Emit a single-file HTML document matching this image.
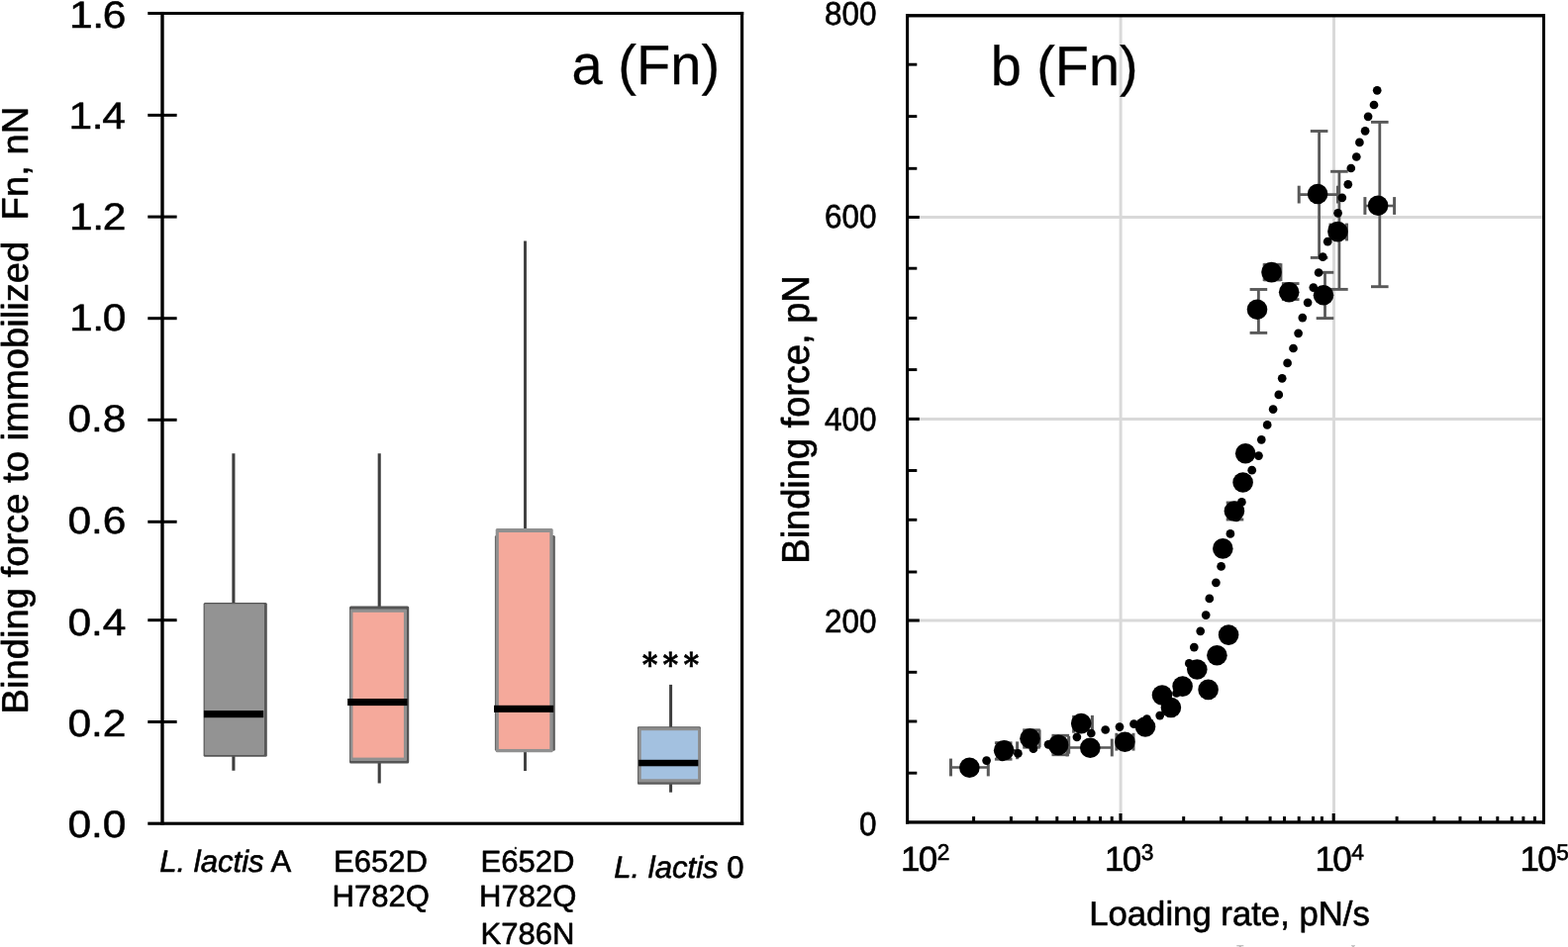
<!DOCTYPE html>
<html lang="en">
<head>
<meta charset="utf-8">
<title>Binding force figure</title>
<style>
html,body{margin:0;padding:0;background:#fff;}
body{width:1584px;height:957px;overflow:hidden;}
svg{display:block;}
text{white-space:pre;text-rendering:geometricPrecision;}
</style>
</head>
<body>
<svg width="1584" height="957" viewBox="0 0 1584 957" role="img" aria-label="Box plot of binding force to immobilized Fn and scatter plot of binding force versus loading rate">
<rect x="0" y="0" width="1584" height="957" fill="#fff"/>
<g id="panel-a">
<rect x="149.30" y="11.95" width="601.90" height="3.00" fill="#000"/>
<rect x="748.00" y="11.95" width="3.20" height="821.85" fill="#000"/>
<rect x="162.30" y="11.95" width="3.40" height="821.85" fill="#000"/>
<rect x="149.30" y="830.65" width="601.90" height="3.15" fill="#000"/>
<rect x="149.30" y="114.90" width="29.35" height="3.00" fill="#000"/>
<rect x="149.30" y="217.60" width="29.35" height="3.00" fill="#000"/>
<rect x="149.30" y="320.20" width="29.35" height="3.00" fill="#000"/>
<rect x="149.30" y="422.80" width="29.35" height="3.00" fill="#000"/>
<rect x="149.30" y="525.80" width="29.35" height="3.00" fill="#000"/>
<rect x="149.30" y="625.20" width="29.35" height="3.00" fill="#000"/>
<rect x="149.30" y="728.00" width="29.35" height="3.00" fill="#000"/>
<text transform="translate(127.50,27.60) scale(1.1100,1.0000)" font-family="'Liberation Sans', Arial, sans-serif" font-size="38.3" text-anchor="start" fill="#000" stroke="#000" stroke-width="0.5" stroke-linejoin="round"  ><tspan x="-51.71 -30.77 -21.30">1.6</tspan></text>
<text transform="translate(127.00,129.80) scale(1.1100,1.0000)" font-family="'Liberation Sans', Arial, sans-serif" font-size="38.3" text-anchor="start" fill="#000" stroke="#000" stroke-width="0.5" stroke-linejoin="round"  ><tspan x="-51.71 -30.77 -21.30">1.4</tspan></text>
<text transform="translate(127.50,231.80) scale(1.1100,1.0000)" font-family="'Liberation Sans', Arial, sans-serif" font-size="38.3" text-anchor="start" fill="#000" stroke="#000" stroke-width="0.5" stroke-linejoin="round"  ><tspan x="-51.71 -30.77 -21.30">1.2</tspan></text>
<text transform="translate(127.50,334.10) scale(1.1100,1.0000)" font-family="'Liberation Sans', Arial, sans-serif" font-size="38.3" text-anchor="start" fill="#000" stroke="#000" stroke-width="0.5" stroke-linejoin="round"  ><tspan x="-51.71 -30.77 -21.30">1.0</tspan></text>
<text transform="translate(127.50,436.40) scale(1.1100,1.0000)" font-family="'Liberation Sans', Arial, sans-serif" font-size="38.3" text-anchor="start" fill="#000" stroke="#000" stroke-width="0.5" stroke-linejoin="round"  ><tspan x="-53.24 -31.94 -21.30">0.8</tspan></text>
<text transform="translate(127.50,539.00) scale(1.1100,1.0000)" font-family="'Liberation Sans', Arial, sans-serif" font-size="38.3" text-anchor="start" fill="#000" stroke="#000" stroke-width="0.5" stroke-linejoin="round"  ><tspan x="-53.24 -31.94 -21.30">0.6</tspan></text>
<text transform="translate(127.50,641.60) scale(1.1100,1.0000)" font-family="'Liberation Sans', Arial, sans-serif" font-size="38.3" text-anchor="start" fill="#000" stroke="#000" stroke-width="0.5" stroke-linejoin="round"  ><tspan x="-53.24 -31.94 -21.30">0.4</tspan></text>
<text transform="translate(127.50,744.10) scale(1.1100,1.0000)" font-family="'Liberation Sans', Arial, sans-serif" font-size="38.3" text-anchor="start" fill="#000" stroke="#000" stroke-width="0.5" stroke-linejoin="round"  ><tspan x="-53.24 -31.94 -21.30">0.2</tspan></text>
<text transform="translate(127.50,846.40) scale(1.1100,1.0000)" font-family="'Liberation Sans', Arial, sans-serif" font-size="38.3" text-anchor="start" fill="#000" stroke="#000" stroke-width="0.5" stroke-linejoin="round"  ><tspan x="-53.24 -31.94 -21.30">0.0</tspan></text>
<text transform="translate(28.40,721.60) rotate(-90) scale(0.9980,0.9780)" font-family="'Liberation Sans', Arial, sans-serif" font-size="38.3" text-anchor="start" fill="#000" stroke="#000" stroke-width="0.6" stroke-linejoin="round"  xml:space="preserve">Binding force to immobilized&#160;&#160;Fn, nN</text>
<text transform="translate(577.60,84.70) scale(0.9920,1.0000)" font-family="'Liberation Sans', Arial, sans-serif" font-size="56.5" text-anchor="start" fill="#000" stroke="#000" stroke-width="0.25" stroke-linejoin="round"  >a (Fn)</text>
<line x1="235.9" y1="458.3" x2="235.9" y2="778.8" stroke="#3e3e3e" stroke-width="3.1" stroke-linecap="butt"/>
<rect x="205.60" y="609.10" width="64.20" height="155.70" rx="1.5" ry="1.5" fill="#555555"/>
<rect x="206.70" y="610.20" width="60.30" height="152.80" rx="1.0" ry="1.0" fill="#939393"/>
<rect x="205.90" y="718.10" width="60.30" height="7.10" fill="#000"/>
<line x1="383.2" y1="458.3" x2="383.2" y2="791.6" stroke="#3e3e3e" stroke-width="3.1" stroke-linecap="butt"/>
<rect x="353.00" y="612.50" width="60.20" height="158.90" rx="1.5" ry="1.5" fill="#555555"/>
<rect x="353.70" y="615.40" width="57.30" height="153.60" rx="1.0" ry="1.0" fill="#909090"/>
<rect x="356.45" y="618.80" width="51.45" height="146.80" fill="#F5A99B"/>
<rect x="351.10" y="706.00" width="60.40" height="7.10" fill="#000"/>
<line x1="530.5" y1="243.6" x2="530.5" y2="779.1" stroke="#3e3e3e" stroke-width="2.9" stroke-linecap="butt"/>
<rect x="499.90" y="541.00" width="60.90" height="217.80" rx="1.5" ry="1.5" fill="#5a5a5a"/>
<rect x="500.70" y="534.10" width="58.00" height="226.20" rx="1.5" ry="1.5" fill="#909090"/>
<rect x="503.85" y="538.00" width="51.45" height="218.95" fill="#F5A99B"/>
<rect x="499.00" y="712.80" width="60.20" height="7.10" fill="#000"/>
<line x1="677.6" y1="691.9" x2="677.6" y2="800.7" stroke="#3e3e3e" stroke-width="3.0" stroke-linecap="butt"/>
<rect x="644.00" y="734.20" width="63.75" height="58.50" rx="1.0" ry="1.0" fill="#5a5a5a"/>
<rect x="644.80" y="735.30" width="62.20" height="55.30" rx="0.8" ry="0.8" fill="#8e8e8e"/>
<rect x="647.70" y="738.20" width="57.35" height="49.10" fill="#A3C1E0"/>
<rect x="645.20" y="767.80" width="60.20" height="6.50" fill="#000"/>
<text transform="translate(656.70,683.40) scale(0.9200,1.0000)" font-family="'DejaVu Serif', 'Liberation Serif', serif" font-size="32.6" text-anchor="start" fill="#000" stroke="#000" stroke-width="0.6" stroke-linejoin="round" font-weight="bold" ><tspan x="-8.52 14.03 36.64">***</tspan></text>
<text transform="translate(161.20,881.30) scale(1.0030,1.0000)" font-family="'Liberation Sans', Arial, sans-serif" font-size="31.0" text-anchor="start" fill="#000" stroke="#000" stroke-width="0.6" stroke-linejoin="round"  ><tspan font-style="italic">L. lactis</tspan> A</text>
<text transform="translate(384.50,881.00) scale(1.0120,1.0000)" font-family="'Liberation Sans', Arial, sans-serif" font-size="30.7" text-anchor="middle" fill="#000" stroke="#000" stroke-width="0.6" stroke-linejoin="round"  >E652D</text>
<text transform="translate(384.70,915.80) scale(1.0120,1.0000)" font-family="'Liberation Sans', Arial, sans-serif" font-size="30.7" text-anchor="middle" fill="#000" stroke="#000" stroke-width="0.6" stroke-linejoin="round"  >H782Q</text>
<text transform="translate(533.00,881.00) scale(1.0120,1.0000)" font-family="'Liberation Sans', Arial, sans-serif" font-size="30.7" text-anchor="middle" fill="#000" stroke="#000" stroke-width="0.6" stroke-linejoin="round"  >E652D</text>
<text transform="translate(533.20,915.80) scale(1.0120,1.0000)" font-family="'Liberation Sans', Arial, sans-serif" font-size="30.7" text-anchor="middle" fill="#000" stroke="#000" stroke-width="0.6" stroke-linejoin="round"  >H782Q</text>
<text transform="translate(533.00,954.00) scale(1.0120,1.0000)" font-family="'Liberation Sans', Arial, sans-serif" font-size="30.7" text-anchor="middle" fill="#000" stroke="#000" stroke-width="0.6" stroke-linejoin="round"  >K786N</text>
<text transform="translate(620.20,886.60) scale(1.0030,1.0000)" font-family="'Liberation Sans', Arial, sans-serif" font-size="31.0" text-anchor="start" fill="#000" stroke="#000" stroke-width="0.6" stroke-linejoin="round"  ><tspan font-style="italic">L. lactis</tspan> 0</text>
</g>
<g id="panel-b">
<line x1="917.0" y1="219.6" x2="1559.8" y2="219.6" stroke="#D9D9D9" stroke-width="3.0" stroke-linecap="butt"/>
<line x1="917.0" y1="423.5" x2="1559.8" y2="423.5" stroke="#D9D9D9" stroke-width="3.0" stroke-linecap="butt"/>
<line x1="917.0" y1="627.1" x2="1559.8" y2="627.1" stroke="#D9D9D9" stroke-width="3.0" stroke-linecap="butt"/>
<line x1="1132.1" y1="15.9" x2="1132.1" y2="830.8" stroke="#D9D9D9" stroke-width="3.0" stroke-linecap="butt"/>
<line x1="1347.5" y1="15.9" x2="1347.5" y2="830.8" stroke="#D9D9D9" stroke-width="3.0" stroke-linecap="butt"/>
<line x1="1332.6" y1="132.5" x2="1332.6" y2="260.4" stroke="#595959" stroke-width="2.8" stroke-linecap="butt"/>
<line x1="1323.8" y1="132.5" x2="1341.3999999999999" y2="132.5" stroke="#595959" stroke-width="2.9" stroke-linecap="butt"/>
<line x1="1323.8" y1="260.4" x2="1341.3999999999999" y2="260.4" stroke="#595959" stroke-width="2.9" stroke-linecap="butt"/>
<line x1="1312.2" y1="196.6" x2="1351.4" y2="196.6" stroke="#595959" stroke-width="2.6" stroke-linecap="butt"/>
<line x1="1312.2" y1="187.7" x2="1312.2" y2="205.5" stroke="#595959" stroke-width="3.0" stroke-linecap="butt"/>
<line x1="1351.4" y1="187.7" x2="1351.4" y2="205.5" stroke="#595959" stroke-width="3.0" stroke-linecap="butt"/>
<line x1="1393.8" y1="123.4" x2="1393.8" y2="289.7" stroke="#595959" stroke-width="2.8" stroke-linecap="butt"/>
<line x1="1385.0" y1="123.4" x2="1402.6" y2="123.4" stroke="#595959" stroke-width="2.9" stroke-linecap="butt"/>
<line x1="1385.0" y1="289.7" x2="1402.6" y2="289.7" stroke="#595959" stroke-width="2.9" stroke-linecap="butt"/>
<line x1="1378.9" y1="208.0" x2="1408.6" y2="208.0" stroke="#595959" stroke-width="2.6" stroke-linecap="butt"/>
<line x1="1378.9" y1="199.1" x2="1378.9" y2="216.9" stroke="#595959" stroke-width="3.0" stroke-linecap="butt"/>
<line x1="1408.6" y1="199.1" x2="1408.6" y2="216.9" stroke="#595959" stroke-width="3.0" stroke-linecap="butt"/>
<line x1="1352.9" y1="173.3" x2="1352.9" y2="292.4" stroke="#595959" stroke-width="2.8" stroke-linecap="butt"/>
<line x1="1344.1000000000001" y1="173.3" x2="1361.7" y2="173.3" stroke="#595959" stroke-width="2.9" stroke-linecap="butt"/>
<line x1="1344.1000000000001" y1="292.4" x2="1361.7" y2="292.4" stroke="#595959" stroke-width="2.9" stroke-linecap="butt"/>
<line x1="1344.0" y1="234.5" x2="1360.5" y2="234.5" stroke="#595959" stroke-width="2.6" stroke-linecap="butt"/>
<line x1="1344.0" y1="225.6" x2="1344.0" y2="243.4" stroke="#595959" stroke-width="3.0" stroke-linecap="butt"/>
<line x1="1360.5" y1="225.6" x2="1360.5" y2="243.4" stroke="#595959" stroke-width="3.0" stroke-linecap="butt"/>
<line x1="1271.4" y1="292.5" x2="1271.4" y2="336.4" stroke="#595959" stroke-width="2.8" stroke-linecap="butt"/>
<line x1="1262.6000000000001" y1="292.5" x2="1280.2" y2="292.5" stroke="#595959" stroke-width="2.9" stroke-linecap="butt"/>
<line x1="1262.6000000000001" y1="336.4" x2="1280.2" y2="336.4" stroke="#595959" stroke-width="2.9" stroke-linecap="butt"/>
<line x1="1338.5" y1="275.3" x2="1338.5" y2="321.6" stroke="#595959" stroke-width="2.8" stroke-linecap="butt"/>
<line x1="1329.7" y1="275.3" x2="1347.3" y2="275.3" stroke="#595959" stroke-width="2.9" stroke-linecap="butt"/>
<line x1="1329.7" y1="321.6" x2="1347.3" y2="321.6" stroke="#595959" stroke-width="2.9" stroke-linecap="butt"/>
<line x1="960.5" y1="775.5" x2="998.3" y2="775.5" stroke="#595959" stroke-width="2.6" stroke-linecap="butt"/>
<line x1="960.5" y1="766.6" x2="960.5" y2="784.4" stroke="#595959" stroke-width="3.0" stroke-linecap="butt"/>
<line x1="998.3" y1="766.6" x2="998.3" y2="784.4" stroke="#595959" stroke-width="3.0" stroke-linecap="butt"/>
<line x1="1078.0" y1="755.5" x2="1123.3" y2="755.5" stroke="#595959" stroke-width="2.6" stroke-linecap="butt"/>
<line x1="1078.0" y1="746.6" x2="1078.0" y2="764.4" stroke="#595959" stroke-width="3.0" stroke-linecap="butt"/>
<line x1="1123.3" y1="746.6" x2="1123.3" y2="764.4" stroke="#595959" stroke-width="3.0" stroke-linecap="butt"/>
<line x1="1013.7" y1="750.8" x2="1013.7" y2="767.2" stroke="#595959" stroke-width="2.8" stroke-linecap="butt"/>
<line x1="1004.9000000000001" y1="750.8" x2="1022.5" y2="750.8" stroke="#595959" stroke-width="2.9" stroke-linecap="butt"/>
<line x1="1004.9000000000001" y1="767.2" x2="1022.5" y2="767.2" stroke="#595959" stroke-width="2.9" stroke-linecap="butt"/>
<line x1="1007.5" y1="758.3" x2="1027.6" y2="758.3" stroke="#595959" stroke-width="2.6" stroke-linecap="butt"/>
<line x1="1007.5" y1="749.4" x2="1007.5" y2="767.1999999999999" stroke="#595959" stroke-width="3.0" stroke-linecap="butt"/>
<line x1="1027.6" y1="749.4" x2="1027.6" y2="767.1999999999999" stroke="#595959" stroke-width="3.0" stroke-linecap="butt"/>
<line x1="1042.0" y1="737.8" x2="1042.0" y2="755.2" stroke="#595959" stroke-width="2.8" stroke-linecap="butt"/>
<line x1="1033.2" y1="737.8" x2="1050.8" y2="737.8" stroke="#595959" stroke-width="2.9" stroke-linecap="butt"/>
<line x1="1033.2" y1="755.2" x2="1050.8" y2="755.2" stroke="#595959" stroke-width="2.9" stroke-linecap="butt"/>
<line x1="1036.0" y1="746.4" x2="1050.1" y2="746.4" stroke="#595959" stroke-width="2.6" stroke-linecap="butt"/>
<line x1="1036.0" y1="737.5" x2="1036.0" y2="755.3" stroke="#595959" stroke-width="3.0" stroke-linecap="butt"/>
<line x1="1050.1" y1="737.5" x2="1050.1" y2="755.3" stroke="#595959" stroke-width="3.0" stroke-linecap="butt"/>
<line x1="1071.3" y1="743.3" x2="1071.3" y2="762.7" stroke="#595959" stroke-width="2.8" stroke-linecap="butt"/>
<line x1="1062.5" y1="743.3" x2="1080.1" y2="743.3" stroke="#595959" stroke-width="2.9" stroke-linecap="butt"/>
<line x1="1062.5" y1="762.7" x2="1080.1" y2="762.7" stroke="#595959" stroke-width="2.9" stroke-linecap="butt"/>
<line x1="1064.0" y1="752.8" x2="1079.7" y2="752.8" stroke="#595959" stroke-width="2.6" stroke-linecap="butt"/>
<line x1="1064.0" y1="743.9" x2="1064.0" y2="761.6999999999999" stroke="#595959" stroke-width="3.0" stroke-linecap="butt"/>
<line x1="1079.7" y1="743.9" x2="1079.7" y2="761.6999999999999" stroke="#595959" stroke-width="3.0" stroke-linecap="butt"/>
<line x1="1084.6" y1="731.8" x2="1103.4" y2="731.8" stroke="#595959" stroke-width="2.6" stroke-linecap="butt"/>
<line x1="1084.6" y1="722.9" x2="1084.6" y2="740.6999999999999" stroke="#595959" stroke-width="3.0" stroke-linecap="butt"/>
<line x1="1103.4" y1="722.9" x2="1103.4" y2="740.6999999999999" stroke="#595959" stroke-width="3.0" stroke-linecap="butt"/>
<line x1="1127.9" y1="749.7" x2="1145.0" y2="749.7" stroke="#595959" stroke-width="2.6" stroke-linecap="butt"/>
<line x1="1127.9" y1="740.8000000000001" x2="1127.9" y2="758.6" stroke="#595959" stroke-width="3.0" stroke-linecap="butt"/>
<line x1="1145.0" y1="740.8000000000001" x2="1145.0" y2="758.6" stroke="#595959" stroke-width="3.0" stroke-linecap="butt"/>
<line x1="1285.3" y1="267.3" x2="1285.3" y2="282.9" stroke="#595959" stroke-width="2.8" stroke-linecap="butt"/>
<line x1="1276.5" y1="267.3" x2="1294.1" y2="267.3" stroke="#595959" stroke-width="2.9" stroke-linecap="butt"/>
<line x1="1276.5" y1="282.9" x2="1294.1" y2="282.9" stroke="#595959" stroke-width="2.9" stroke-linecap="butt"/>
<line x1="1277.2" y1="275.1" x2="1293.9" y2="275.1" stroke="#595959" stroke-width="2.6" stroke-linecap="butt"/>
<line x1="1277.2" y1="266.20000000000005" x2="1277.2" y2="284.0" stroke="#595959" stroke-width="3.0" stroke-linecap="butt"/>
<line x1="1293.9" y1="266.20000000000005" x2="1293.9" y2="284.0" stroke="#595959" stroke-width="3.0" stroke-linecap="butt"/>
<line x1="1303.7" y1="286.6" x2="1303.7" y2="302.6" stroke="#595959" stroke-width="2.8" stroke-linecap="butt"/>
<line x1="1294.9" y1="286.6" x2="1312.5" y2="286.6" stroke="#595959" stroke-width="2.9" stroke-linecap="butt"/>
<line x1="1294.9" y1="302.6" x2="1312.5" y2="302.6" stroke="#595959" stroke-width="2.9" stroke-linecap="butt"/>
<line x1="1247.5" y1="508.0" x2="1247.5" y2="525.0" stroke="#595959" stroke-width="2.8" stroke-linecap="butt"/>
<line x1="1238.7" y1="508.0" x2="1256.3" y2="508.0" stroke="#595959" stroke-width="2.9" stroke-linecap="butt"/>
<line x1="1238.7" y1="525.0" x2="1256.3" y2="525.0" stroke="#595959" stroke-width="2.9" stroke-linecap="butt"/>
<circle cx="1391.2" cy="91.3" r="4.35" fill="#000"/>
<circle cx="1388.0" cy="106.0" r="4.35" fill="#000"/>
<circle cx="1382.1" cy="117.8" r="4.35" fill="#000"/>
<circle cx="1379.1" cy="132.3" r="4.35" fill="#000"/>
<circle cx="1373.4" cy="143.9" r="4.35" fill="#000"/>
<circle cx="1370.3" cy="158.5" r="4.35" fill="#000"/>
<circle cx="1364.8" cy="170.0" r="4.35" fill="#000"/>
<circle cx="1361.8" cy="186.3" r="4.35" fill="#000"/>
<circle cx="1355.8" cy="199.8" r="4.35" fill="#000"/>
<circle cx="1351.6" cy="215.3" r="4.35" fill="#000"/>
<circle cx="1346.5" cy="230.0" r="4.35" fill="#000"/>
<circle cx="1341.2" cy="244.2" r="4.35" fill="#000"/>
<circle cx="1336.3" cy="259.7" r="4.35" fill="#000"/>
<circle cx="1332.1" cy="275.5" r="4.35" fill="#000"/>
<circle cx="1326.8" cy="290.6" r="4.35" fill="#000"/>
<circle cx="1321.1" cy="305.8" r="4.35" fill="#000"/>
<circle cx="1315.8" cy="321.1" r="4.35" fill="#000"/>
<circle cx="1311.6" cy="336.8" r="4.35" fill="#000"/>
<circle cx="1306.5" cy="352.0" r="4.35" fill="#000"/>
<circle cx="1300.6" cy="366.9" r="4.35" fill="#000"/>
<circle cx="1295.2" cy="382.3" r="4.35" fill="#000"/>
<circle cx="1291.8" cy="398.9" r="4.35" fill="#000"/>
<circle cx="1286.1" cy="413.6" r="4.35" fill="#000"/>
<circle cx="1280.2" cy="429.4" r="4.35" fill="#000"/>
<circle cx="1274.3" cy="444.3" r="4.35" fill="#000"/>
<circle cx="1271.5" cy="460.6" r="4.35" fill="#000"/>
<circle cx="1264.7" cy="475.2" r="4.35" fill="#000"/>
<circle cx="1260.0" cy="490.5" r="4.35" fill="#000"/>
<circle cx="1254.4" cy="507.4" r="4.35" fill="#000"/>
<circle cx="1249.0" cy="523.0" r="4.35" fill="#000"/>
<circle cx="1242.9" cy="539.4" r="4.35" fill="#000"/>
<circle cx="1238.0" cy="555.5" r="4.35" fill="#000"/>
<circle cx="1233.6" cy="572.4" r="4.35" fill="#000"/>
<circle cx="1228.4" cy="588.8" r="4.35" fill="#000"/>
<circle cx="1221.8" cy="604.9" r="4.35" fill="#000"/>
<circle cx="1218.2" cy="621.6" r="4.35" fill="#000"/>
<circle cx="1212.7" cy="637.8" r="4.35" fill="#000"/>
<circle cx="1206.3" cy="654.1" r="4.35" fill="#000"/>
<circle cx="1201.3" cy="670.4" r="4.35" fill="#000"/>
<circle cx="1195.0" cy="688.0" r="4.35" fill="#000"/>
<circle cx="1188.5" cy="700.5" r="4.35" fill="#000"/>
<circle cx="1180.5" cy="711.5" r="4.35" fill="#000"/>
<circle cx="1171.7" cy="723.1" r="4.35" fill="#000"/>
<circle cx="1158.6" cy="726.5" r="4.35" fill="#000"/>
<circle cx="1145.5" cy="731.7" r="4.35" fill="#000"/>
<circle cx="1131.0" cy="734.6" r="4.35" fill="#000"/>
<circle cx="1116.7" cy="737.5" r="4.35" fill="#000"/>
<circle cx="1102.3" cy="741.0" r="4.35" fill="#000"/>
<circle cx="1087.9" cy="744.8" r="4.35" fill="#000"/>
<circle cx="1073.5" cy="748.5" r="4.35" fill="#000"/>
<circle cx="1059.1" cy="752.3" r="4.35" fill="#000"/>
<circle cx="1043.9" cy="756.7" r="4.35" fill="#000"/>
<circle cx="1028.4" cy="761.4" r="4.35" fill="#000"/>
<circle cx="1012.5" cy="765.0" r="4.35" fill="#000"/>
<circle cx="996.6" cy="768.6" r="4.35" fill="#000"/>
<circle cx="979.4" cy="775.7" r="10.3" fill="#000"/>
<circle cx="1014.2" cy="758.2" r="10.3" fill="#000"/>
<circle cx="1040.5" cy="746.3" r="10.3" fill="#000"/>
<circle cx="1069.1" cy="752.9" r="10.3" fill="#000"/>
<circle cx="1092.2" cy="731.1" r="10.3" fill="#000"/>
<circle cx="1101.3" cy="755.8" r="10.3" fill="#000"/>
<circle cx="1136.4" cy="749.7" r="10.3" fill="#000"/>
<circle cx="1157.0" cy="734.5" r="10.3" fill="#000"/>
<circle cx="1174.0" cy="702.5" r="10.3" fill="#000"/>
<circle cx="1182.9" cy="715.0" r="10.3" fill="#000"/>
<circle cx="1194.6" cy="693.6" r="10.3" fill="#000"/>
<circle cx="1220.6" cy="696.9" r="10.3" fill="#000"/>
<circle cx="1209.3" cy="676.5" r="10.3" fill="#000"/>
<circle cx="1229.4" cy="662.3" r="10.3" fill="#000"/>
<circle cx="1241.1" cy="641.6" r="10.3" fill="#000"/>
<circle cx="1235.3" cy="554.4" r="10.3" fill="#000"/>
<circle cx="1246.9" cy="516.5" r="10.3" fill="#000"/>
<circle cx="1255.6" cy="487.5" r="10.3" fill="#000"/>
<circle cx="1258.2" cy="458.3" r="10.3" fill="#000"/>
<circle cx="1270.0" cy="312.8" r="10.3" fill="#000"/>
<circle cx="1284.5" cy="275.1" r="10.3" fill="#000"/>
<circle cx="1302.2" cy="295.3" r="10.3" fill="#000"/>
<circle cx="1337.0" cy="298.2" r="10.3" fill="#000"/>
<circle cx="1351.4" cy="234.1" r="10.3" fill="#000"/>
<circle cx="1331.1" cy="196.0" r="10.3" fill="#000"/>
<circle cx="1392.1" cy="207.7" r="10.3" fill="#000"/>
<rect x="915.10" y="14.10" width="645.90" height="3.35" fill="#000"/>
<rect x="915.10" y="829.30" width="645.90" height="3.30" fill="#000"/>
<rect x="915.10" y="14.10" width="3.05" height="818.50" fill="#000"/>
<rect x="1558.00" y="14.10" width="3.00" height="818.50" fill="#000"/>
<rect x="916.00" y="63.75" width="10.30" height="2.90" fill="#000"/>
<rect x="916.00" y="116.15" width="10.30" height="2.90" fill="#000"/>
<rect x="916.00" y="168.85" width="10.30" height="2.90" fill="#000"/>
<rect x="916.00" y="269.75" width="10.30" height="2.90" fill="#000"/>
<rect x="916.00" y="319.95" width="10.30" height="2.90" fill="#000"/>
<rect x="916.00" y="372.15" width="10.30" height="2.90" fill="#000"/>
<rect x="916.00" y="474.05" width="10.30" height="2.90" fill="#000"/>
<rect x="916.00" y="523.85" width="10.30" height="2.90" fill="#000"/>
<rect x="916.00" y="576.55" width="10.30" height="2.90" fill="#000"/>
<rect x="916.00" y="677.85" width="10.30" height="2.90" fill="#000"/>
<rect x="916.00" y="727.55" width="10.30" height="2.90" fill="#000"/>
<rect x="916.00" y="779.75" width="10.30" height="2.90" fill="#000"/>
<rect x="916.00" y="218.00" width="12.80" height="3.00" fill="#000"/>
<rect x="916.00" y="421.90" width="12.80" height="3.00" fill="#000"/>
<rect x="916.00" y="625.50" width="12.80" height="3.00" fill="#000"/>
<rect x="982.10" y="825.10" width="3.00" height="5.90" fill="#000"/>
<rect x="1019.90" y="825.10" width="3.00" height="5.90" fill="#000"/>
<rect x="1046.00" y="825.10" width="3.00" height="5.90" fill="#000"/>
<rect x="1066.30" y="825.10" width="3.00" height="5.90" fill="#000"/>
<rect x="1083.90" y="825.10" width="3.00" height="5.90" fill="#000"/>
<rect x="1098.40" y="825.10" width="3.00" height="5.90" fill="#000"/>
<rect x="1110.00" y="825.10" width="3.00" height="5.90" fill="#000"/>
<rect x="1121.70" y="825.10" width="3.00" height="5.90" fill="#000"/>
<rect x="1194.20" y="825.10" width="3.00" height="5.90" fill="#000"/>
<rect x="1232.00" y="825.10" width="3.00" height="5.90" fill="#000"/>
<rect x="1258.20" y="825.10" width="3.00" height="5.90" fill="#000"/>
<rect x="1281.60" y="825.10" width="3.00" height="5.90" fill="#000"/>
<rect x="1296.00" y="825.10" width="3.00" height="5.90" fill="#000"/>
<rect x="1310.70" y="825.10" width="3.00" height="5.90" fill="#000"/>
<rect x="1325.00" y="825.10" width="3.00" height="5.90" fill="#000"/>
<rect x="1333.90" y="825.10" width="3.00" height="5.90" fill="#000"/>
<rect x="1409.60" y="825.10" width="3.00" height="5.90" fill="#000"/>
<rect x="1447.40" y="825.10" width="3.00" height="5.90" fill="#000"/>
<rect x="1473.50" y="825.10" width="3.00" height="5.90" fill="#000"/>
<rect x="1493.90" y="825.10" width="3.00" height="5.90" fill="#000"/>
<rect x="1511.30" y="825.10" width="3.00" height="5.90" fill="#000"/>
<rect x="1525.80" y="825.10" width="3.00" height="5.90" fill="#000"/>
<rect x="1537.40" y="825.10" width="3.00" height="5.90" fill="#000"/>
<rect x="1549.00" y="825.10" width="3.00" height="5.90" fill="#000"/>
<rect x="1130.45" y="822.00" width="3.10" height="9.00" fill="#000"/>
<rect x="1345.65" y="822.00" width="3.10" height="9.00" fill="#000"/>
<text transform="translate(885.60,24.80) scale(0.9530,1.0000)" font-family="'Liberation Sans', Arial, sans-serif" font-size="33.05" text-anchor="end" fill="#000" stroke="#000" stroke-width="0.6" stroke-linejoin="round"  >800</text>
<text transform="translate(885.60,229.65) scale(0.9530,1.0000)" font-family="'Liberation Sans', Arial, sans-serif" font-size="33.05" text-anchor="end" fill="#000" stroke="#000" stroke-width="0.6" stroke-linejoin="round"  >600</text>
<text transform="translate(885.60,434.50) scale(0.9530,1.0000)" font-family="'Liberation Sans', Arial, sans-serif" font-size="33.05" text-anchor="end" fill="#000" stroke="#000" stroke-width="0.6" stroke-linejoin="round"  >400</text>
<text transform="translate(885.60,639.35) scale(0.9530,1.0000)" font-family="'Liberation Sans', Arial, sans-serif" font-size="33.05" text-anchor="end" fill="#000" stroke="#000" stroke-width="0.6" stroke-linejoin="round"  >200</text>
<text transform="translate(885.60,844.20) scale(0.9530,1.0000)" font-family="'Liberation Sans', Arial, sans-serif" font-size="33.05" text-anchor="end" fill="#000" stroke="#000" stroke-width="0.6" stroke-linejoin="round"  >0</text>
<text transform="translate(816.80,569.70) rotate(-90) scale(1.0000,1.0250)" font-family="'Liberation Sans', Arial, sans-serif" font-size="38" text-anchor="start" fill="#000" stroke="#000" stroke-width="0.6" stroke-linejoin="round"  >Binding force, pN</text>
<text transform="translate(1000.70,85.60) scale(0.9920,1.0000)" font-family="'Liberation Sans', Arial, sans-serif" font-size="56.3" text-anchor="start" fill="#000" stroke="#000" stroke-width="0.25" stroke-linejoin="round"  >b (Fn)</text>
<text transform="translate(908.50,880.00)" font-family="'Liberation Sans', Arial, sans-serif" font-size="35.0" text-anchor="start" fill="#000" stroke="#000" stroke-width="0.6" stroke-linejoin="round"  ><tspan x="1.6 19.17">10</tspan><tspan font-size="22.8" dy="-10.6" dx="-0.3">2</tspan></text>
<text transform="translate(1114.50,880.00)" font-family="'Liberation Sans', Arial, sans-serif" font-size="35.0" text-anchor="start" fill="#000" stroke="#000" stroke-width="0.6" stroke-linejoin="round"  ><tspan x="1.6 19.17">10</tspan><tspan font-size="22.8" dy="-10.6" dx="-0.3">3</tspan></text>
<text transform="translate(1327.00,880.00)" font-family="'Liberation Sans', Arial, sans-serif" font-size="35.0" text-anchor="start" fill="#000" stroke="#000" stroke-width="0.6" stroke-linejoin="round"  ><tspan x="1.6 19.17">10</tspan><tspan font-size="22.8" dy="-10.6" dx="-0.3">4</tspan></text>
<text transform="translate(1534.00,880.00)" font-family="'Liberation Sans', Arial, sans-serif" font-size="35.0" text-anchor="start" fill="#000" stroke="#000" stroke-width="0.6" stroke-linejoin="round"  ><tspan x="1.6 19.17">10</tspan><tspan font-size="22.8" dy="-10.6" dx="-0.3">5</tspan></text>
<text transform="translate(1100.20,935.10) scale(1.0060,1.0000)" font-family="'Liberation Sans', Arial, sans-serif" font-size="34.5" text-anchor="start" fill="#000" stroke="#000" stroke-width="0.6" stroke-linejoin="round"  >Loading rate, pN/s</text>
</g>
<rect x="1249.30" y="955.20" width="7.00" height="1.10" fill="#b4b4b4"/>
<rect x="1251.80" y="956.00" width="2.00" height="1.00" fill="#b4b4b4"/>
<rect x="1365.00" y="955.30" width="4.00" height="0.90" fill="#b4b4b4"/>
<rect x="1366.20" y="956.00" width="1.60" height="1.00" fill="#b4b4b4"/>
<rect x="519.9" y="856.0" width="2" height="2" fill="#111" transform="rotate(45 520.9 857)"/>
</svg>
</body>
</html>
